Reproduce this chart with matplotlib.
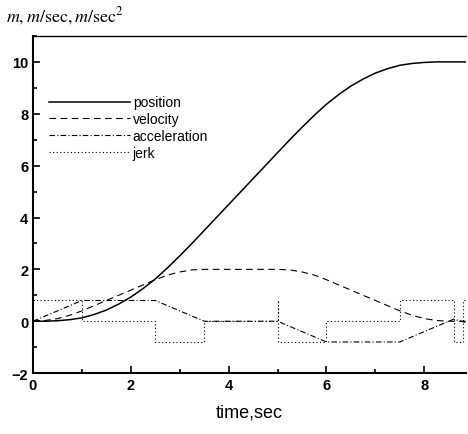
import matplotlib
matplotlib.use("Agg")
import matplotlib.pyplot as plt
from matplotlib.ticker import MultipleLocator

plt.rcParams["font.family"] = ["Liberation Sans", "DejaVu Sans"]
plt.rcParams["mathtext.fontset"] = "stix"

# position / velocity every 0.25 s
t_pv = [0, 0.25, 0.5, 0.75, 1.0, 1.25, 1.5, 1.75, 2.0, 2.25, 2.5, 2.75, 3.0, 3.25,
        3.5, 3.75, 4.0, 4.25, 4.5, 4.75, 5.0, 5.25, 5.5, 5.75, 6.0, 6.25, 6.5,
        6.75, 7.0, 7.25, 7.5, 7.75, 8.0, 8.25, 8.5, 8.75, 8.85]
position = [0, 0.0, 0.02, 0.06, 0.13, 0.26, 0.43, 0.66, 0.93, 1.26, 1.63, 2.06,
            2.52, 3.0, 3.5, 4.0, 4.5, 5.0, 5.5, 6.0, 6.5, 7.0, 7.48, 7.94, 8.37,
            8.74, 9.07, 9.34, 9.57, 9.74, 9.87, 9.94, 9.98, 10.0, 10.0, 10.0, 10.0]
velocity = [0, 0.03, 0.1, 0.23, 0.4, 0.6, 0.8, 1.0, 1.2, 1.4, 1.6, 1.78, 1.9,
            1.98, 2.0, 2.0, 2.0, 2.0, 2.0, 2.0, 2.0, 1.98, 1.9, 1.78, 1.6, 1.4,
            1.2, 1.0, 0.8, 0.6, 0.4, 0.23, 0.1, 0.03, 0.0, 0.0, 0.0]

# acceleration corners
t_acc = [0, 1, 2.5, 3.5, 5, 6, 7.5, 8.6, 8.85]
acceleration = [0, 0.8, 0.8, 0, 0, -0.8, -0.8, 0.08, -0.05]

# jerk steps (value holds until next time)
t_jerk = [0, 1, 2.5, 3.5, 5, 5, 6, 7.5, 8.6, 8.8, 8.9]
jerk = [0.8, 0, -0.8, 0, 0.8, -0.8, 0, 0.8, -0.8, 0.8, 0.8]

fig = plt.figure(figsize=(4.68, 4.35), dpi=100)
ax = fig.add_axes([0.0705, 0.140, 0.925, 0.775])

ax.plot(t_pv, position, color="black", lw=1.1, label="position")
ax.plot(t_pv, velocity, color="black", lw=0.8, dashes=(6, 4), label="velocity")
ax.plot(t_acc, acceleration, color="black", lw=0.8, dashes=(5, 2, 1, 2),
        label="acceleration")
ax.plot(t_jerk, jerk, color="black", lw=0.8, drawstyle="steps-post",
        dashes=(1, 2.2), label="jerk")

ax.set_xlim(0, 8.85)
ax.set_ylim(-2, 11)
ax.xaxis.set_major_locator(MultipleLocator(2))
ax.xaxis.set_minor_locator(MultipleLocator(1))
ax.yaxis.set_major_locator(MultipleLocator(2))
ax.yaxis.set_minor_locator(MultipleLocator(1))
ax.tick_params(which="both", direction="in", top=False, right=False,
               labelsize=10.5, width=1.2)
ax.tick_params(which="major", length=5)
ax.tick_params(which="minor", length=3)
for lab in ax.get_xticklabels() + ax.get_yticklabels():
    lab.set_fontweight("bold")

ax.spines["left"].set_linewidth(1.5)
ax.spines["bottom"].set_linewidth(1.5)
ax.spines["top"].set_linewidth(1.0)
ax.spines["right"].set_visible(False)

ax.set_xlabel("time,sec", fontsize=13, labelpad=8)
fig.text(0.012, 0.962, r"$m,m/\mathrm{sec},m/\mathrm{sec}^2$", fontsize=13,
         va="center", ha="left")

ax.legend(loc="upper left", bbox_to_anchor=(0.025, 0.84), frameon=False,
          fontsize=10, handlelength=5.8, handletextpad=0.2, labelspacing=0.2,
          borderaxespad=0)

fig.savefig("out.png", dpi=100)
